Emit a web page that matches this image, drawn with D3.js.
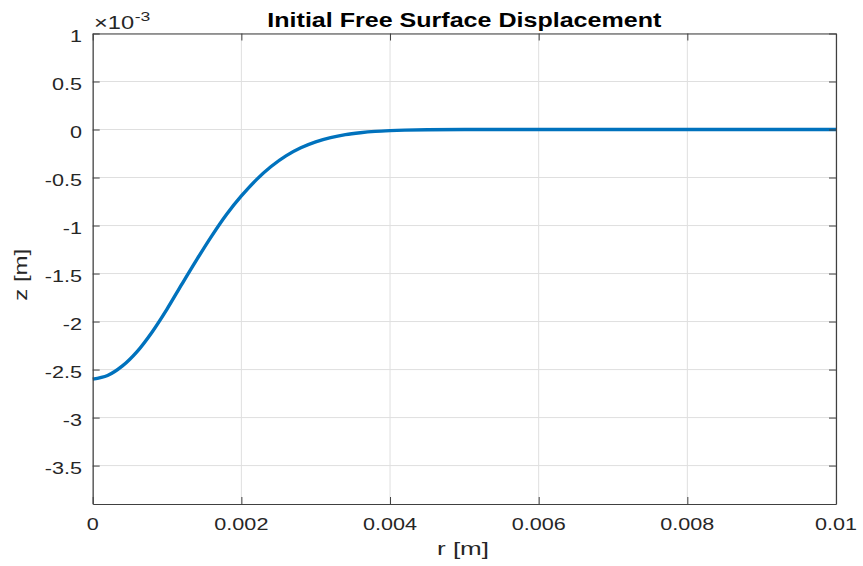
<!DOCTYPE html>
<html>
<head>
<meta charset="utf-8">
<script src="https://cdn.jsdelivr.net/npm/d3@7"></script>
<style>
  html, body { margin: 0; padding: 0; background: #fff; }
  svg { display: block; }
  text { font-family: "Liberation Sans", Arial, Helvetica, sans-serif; }
</style>
</head>
<body>
<svg id="chart" width="863" height="566"></svg>
<script>
// ---- data ----
const rValues = [0, 0.0002, 0.0004, 0.0006, 0.0008, 0.001, 0.0012, 0.0014, 0.0016, 0.0018,
                 0.002, 0.0022, 0.0024, 0.0026, 0.0028, 0.003, 0.0032, 0.0034, 0.0036, 0.0038,
                 0.004, 0.0042, 0.0045, 0.005, 0.006, 0.007, 0.008, 0.009, 0.01];
const zValues = [-2.600e-3, -2.562e-3, -2.462e-3, -2.310e-3, -2.108e-3, -1.870e-3, -1.610e-3, -1.355e-3, -1.110e-3, -0.885e-3,
                 -0.692e-3, -0.524e-3, -0.385e-3, -0.274e-3, -0.190e-3, -0.128e-3, -0.084e-3, -0.053e-3, -0.033e-3, -0.019e-3,
                 -0.011e-3, -0.006e-3, -0.002e-3, -0.0005e-3, 0, 0, 0, 0, 0];
const xTicks = [0, 0.002, 0.004, 0.006, 0.008, 0.01];
const xTickLabels = ["0", "0.002", "0.004", "0.006", "0.008", "0.01"];
const yTicks = [1e-3, 0.5e-3, 0, -0.5e-3, -1e-3, -1.5e-3, -2e-3, -2.5e-3, -3e-3, -3.5e-3];
const yTickLabels = ["1", "0.5", "0", "-0.5", "-1", "-1.5", "-2", "-2.5", "-3", "-3.5"];
const titleText = "Initial Free Surface Displacement";
const xLabel = "r [m]";
const yLabel = "z [m]";

// ---- layout ----
const L = 92.7, R = 836, T = 33.5, B = 504;
const SX = 1.35; // horizontal text stretch seen in the reference

const svg = d3.select("#chart");
svg.append("rect").attr("width", 863).attr("height", 566).attr("fill", "#fff");

const x = d3.scaleLinear().domain([0, 0.01]).range([L, R]);
const y = d3.scaleLinear().domain([-3.9e-3, 1e-3]).range([B, T]);

// grid
const grid = svg.append("g");
grid.selectAll("line.gx").data(xTicks).join("line")
  .attr("x1", d => x(d)).attr("x2", d => x(d)).attr("y1", T).attr("y2", B)
  .attr("stroke", "#dfdfdf").attr("stroke-width", 1);
grid.selectAll("line.gy").data(yTicks).join("line")
  .attr("x1", L).attr("x2", R).attr("y1", d => y(d)).attr("y2", d => y(d))
  .attr("stroke", "#dfdfdf").attr("stroke-width", 1);

// curve
const line = d3.line().x((d, i) => x(rValues[i])).y(d => y(d)).curve(d3.curveCatmullRom.alpha(0.5));
svg.append("path").datum(zValues)
  .attr("d", line).attr("fill", "none")
  .attr("stroke", "#0072BD").attr("stroke-width", 3.4)
  .attr("stroke-linejoin", "round").attr("stroke-linecap", "butt");

// axes with inward ticks on all four sides
const axColor = "#404040";
const tickLen = 7;
const axB = d3.axisBottom(x).tickValues(xTicks).tickSizeInner(-tickLen).tickSizeOuter(0).tickFormat("");
const axT = d3.axisTop(x).tickValues(xTicks).tickSizeInner(-tickLen).tickSizeOuter(0).tickFormat("");
const axLft = d3.axisLeft(y).tickValues(yTicks).tickSizeInner(-tickLen).tickSizeOuter(0).tickFormat("");
const axRgt = d3.axisRight(y).tickValues(yTicks).tickSizeInner(-tickLen).tickSizeOuter(0).tickFormat("");
[[axB, `translate(0,${B})`], [axT, `translate(0,${T})`], [axLft, `translate(${L},0)`], [axRgt, `translate(${R},0)`]]
  .forEach(([ax, tr]) => {
    const g = svg.append("g").attr("transform", tr).call(ax);
    g.selectAll("path.domain").attr("stroke", axColor).attr("stroke-width", 1.2);
    g.selectAll(".tick line").attr("stroke", axColor).attr("stroke-width", 1);
  });

// tick labels
const tickFont = 16;
svg.append("g").selectAll("text").data(xTicks).join("text")
  .attr("transform", d => `translate(${x(d)},530) scale(${SX},1)`)
  .attr("text-anchor", "middle").attr("font-size", tickFont).attr("fill", "#262626")
  .text((d, i) => xTickLabels[i]);
svg.append("g").selectAll("text").data(yTicks).join("text")
  .attr("transform", d => `translate(82,${y(d) + 8}) scale(${SX},1)`)
  .attr("text-anchor", "end").attr("font-size", tickFont).attr("fill", "#262626")
  .text((d, i) => yTickLabels[i]);

// exponent label
const expG = svg.append("g").attr("transform", `translate(94,29) scale(${SX},1)`).attr("fill", "#262626");
const base = expG.append("text").attr("font-size", 17.5).text("\u00d710");
const bw = base.node().getComputedTextLength();
expG.append("text").attr("x", bw + 0.5).attr("y", -8).attr("font-size", 13).text("-3");

// title
svg.append("text")
  .attr("x", (L + R) / 2).attr("y", 27)
  .attr("text-anchor", "middle").attr("font-size", 19.5).attr("font-weight", "bold").attr("fill", "#000")
  .attr("textLength", 394).attr("lengthAdjust", "spacingAndGlyphs")
  .text(titleText);

// axis labels
svg.append("text")
  .attr("x", 463).attr("y", 555)
  .attr("text-anchor", "middle").attr("font-size", 18).attr("fill", "#262626")
  .attr("textLength", 52).attr("lengthAdjust", "spacingAndGlyphs")
  .text(xLabel);
svg.append("text")
  .attr("transform", `translate(27,${(T + B) / 2 + 6}) rotate(-90)`)
  .attr("text-anchor", "middle").attr("font-size", 18).attr("fill", "#262626")
  .attr("textLength", 52).attr("lengthAdjust", "spacingAndGlyphs")
  .text(yLabel);
</script>
</body>
</html>
